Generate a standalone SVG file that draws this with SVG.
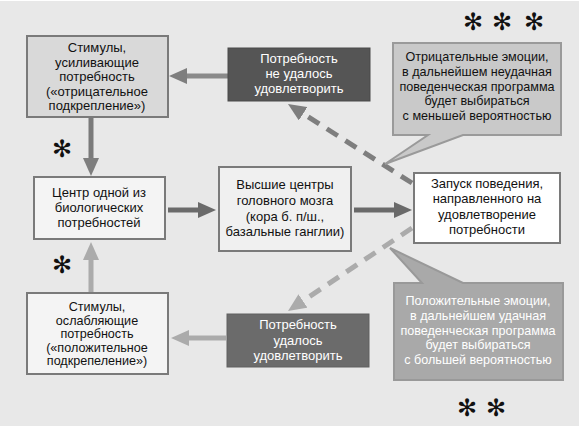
<svg xmlns="http://www.w3.org/2000/svg" width="581" height="427" viewBox="0 0 581 427">
<defs>
<style>
text{font-family:"Liberation Sans","DejaVu Sans",sans-serif;font-size:13px;text-anchor:middle;fill:#111}
.c{font-size:12.6px}
.w{fill:#fff}
.star{font-family:"DejaVu Sans",sans-serif;font-size:24px;fill:#111;dominant-baseline:central}
.box{stroke:#7a7a7a;stroke-width:2}
.ln{fill:none;stroke-width:5}
</style>
<marker id="aD" markerUnits="userSpaceOnUse" markerWidth="20" markerHeight="16" refX="8" refY="8" orient="auto"><path d="M0,0 L18,8 L0,16 Z" fill="#6a6a6a"/></marker>
<marker id="aM" markerUnits="userSpaceOnUse" markerWidth="20" markerHeight="16" refX="8" refY="8" orient="auto"><path d="M0,0 L18,8 L0,16 Z" fill="#7e7e7e"/></marker>
<marker id="aL" markerUnits="userSpaceOnUse" markerWidth="20" markerHeight="16" refX="8" refY="8" orient="auto"><path d="M0,0 L18,8 L0,16 Z" fill="#ababab"/></marker>
</defs>
<rect x="0" y="0" width="581" height="427" fill="#fff"/>
<rect x="0" y="1" width="579" height="425" fill="#e8e8e8"/>

<g id="connectors">
<line class="ln" x1="228" y1="76" x2="179" y2="76" stroke="#8a8a8a" marker-end="url(#aM)"/>
<line class="ln" x1="91" y1="118" x2="91" y2="166" stroke="#7a7a7a" marker-end="url(#aM)"/>
<line class="ln" x1="168" y1="210" x2="206" y2="210" stroke="#6a6a6a" marker-end="url(#aD)"/>
<line class="ln" x1="354" y1="210" x2="402" y2="210" stroke="#6a6a6a" marker-end="url(#aD)"/>
<line class="ln" x1="91" y1="293" x2="91" y2="252" stroke="#ababab" marker-end="url(#aL)"/>
<line class="ln" x1="226" y1="338" x2="181" y2="338" stroke="#ababab" marker-end="url(#aL)"/>
<line class="ln" x1="412" y1="183" x2="296.4" y2="109.4" stroke="#7e7e7e" stroke-dasharray="13 9" marker-end="url(#aM)"/>
<line class="ln" x1="412" y1="228" x2="296.3" y2="305.4" stroke="#ababab" stroke-dasharray="13 9" marker-end="url(#aL)"/>
</g>

<g id="n-stim-neg">
<rect class="box" x="27" y="36" width="141" height="81" fill="#d9d9d9"/>
<text x="97" y="52">Стимулы,</text>
<text x="97" y="66.5">усиливающие</text>
<text x="97" y="81">потребность</text>
<text x="97" y="95.5">(«отрицательное</text>
<text x="97" y="110">подкрепление»)</text>
</g>

<g id="n-fail">
<rect x="228" y="48" width="142" height="53" fill="#555" stroke="#4a4a4a" stroke-width="1"/>
<text class="w" x="299" y="63">Потребность</text>
<text class="w" x="299" y="78">не удалось</text>
<text class="w" x="299" y="93">удовлетворить</text>
</g>

<g id="n-callout-neg">
<path d="M393,43 H561 V135 H463 L385,164 L428,135 H393 Z" fill="#c9c9c9" stroke="#9a9a9a" stroke-width="2"/>
<text class="c" x="477" y="61">Отрицательные эмоции,</text>
<text class="c" x="477" y="76">в дальнейшем неудачная</text>
<text class="c" x="477" y="91">поведенческая программа</text>
<text class="c" x="477" y="105">будет выбираться</text>
<text class="c" x="477" y="120">с меньшей вероятностью</text>
</g>

<g id="n-center">
<rect class="box" x="34" y="177" width="131" height="62" fill="#f4f4f4"/>
<text x="99" y="197">Центр одной из</text>
<text x="99" y="212">биологических</text>
<text x="99" y="227">потребностей</text>
</g>

<g id="n-higher">
<rect class="box" x="219" y="167" width="132" height="84" fill="#f0f0f0"/>
<text x="285" y="189">Высшие центры</text>
<text x="285" y="205">головного мозга</text>
<text x="285" y="221">(кора б. п/ш.,</text>
<text x="285" y="236">базальные ганглии)</text>
</g>

<g id="n-launch">
<rect class="box" x="414" y="173" width="146" height="70" fill="#ffffff"/>
<text x="487" y="188">Запуск поведения,</text>
<text x="487" y="203">направленного на</text>
<text x="487" y="219">удовлетворение</text>
<text x="487" y="234">потребности</text>
</g>

<g id="n-stim-pos">
<rect class="box" x="27" y="293" width="141" height="81" fill="#f4f4f4"/>
<text class="c" x="97" y="311">Стимулы,</text>
<text class="c" x="97" y="324.5">ослабляющие</text>
<text class="c" x="97" y="338">потребность</text>
<text class="c" x="97" y="351.5">(«положительное</text>
<text class="c" x="97" y="365">подкрепеление»)</text>
</g>

<g id="n-success">
<rect x="227" y="314" width="142" height="53" fill="#6b6b6b" stroke="#606060" stroke-width="1"/>
<text class="w" x="298" y="329">Потребность</text>
<text class="w" x="298" y="345">удалось</text>
<text class="w" x="298" y="360">удовлетворить</text>
</g>

<g id="n-callout-pos">
<path d="M394,283 H422 L390,248 L463,283 H563 V380 H394 Z" fill="#a9a9a9" stroke="#999" stroke-width="2"/>
<text class="w c" x="478" y="305">Положительные эмоции,</text>
<text class="w c" x="478" y="320">в дальнейшем удачная</text>
<text class="w c" x="478" y="334.5">поведенческая программа</text>
<text class="w c" x="478" y="349">будет выбираться</text>
<text class="w c" x="478" y="364">с большей вероятностью</text>
</g>

<g id="stars">
<text class="star" x="473" y="22">✻</text>
<text class="star" x="502" y="22">✻</text>
<text class="star" x="534" y="22">✻</text>
<text class="star" x="467" y="408">✻</text>
<text class="star" x="496" y="408">✻</text>
<text class="star" x="62" y="149">✻</text>
<text class="star" x="62" y="265">✻</text>
</g>
</svg>
